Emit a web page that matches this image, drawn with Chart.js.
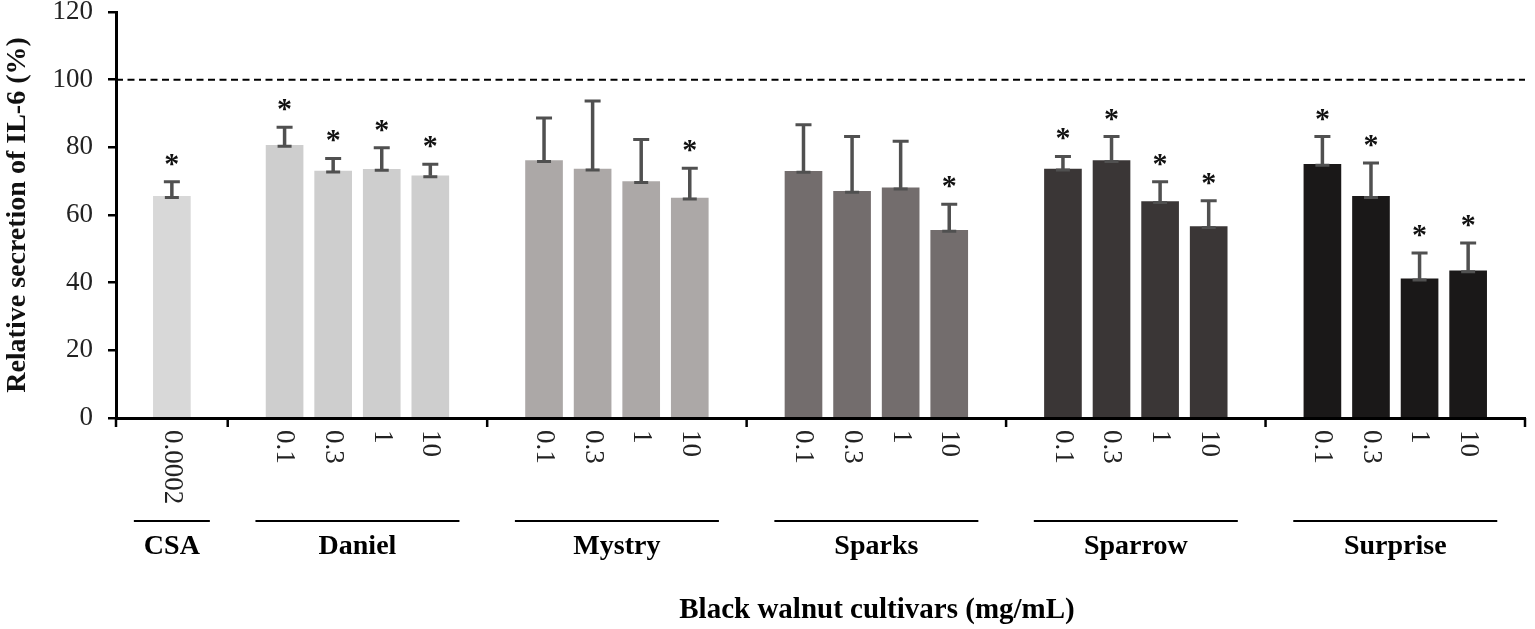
<!DOCTYPE html>
<html lang="en">

<head>
    <meta charset="UTF-8">
    <title>IL-6 secretion</title>
    <script src="https://cdn.jsdelivr.net/npm/chart.js@4.4.0/dist/chart.umd.min.js"></script>
    <style>
        html, body { margin: 0; padding: 0; background: #fff; }
        #wrap { width: 1535px; height: 629px; }
    </style>
</head>

<body>
    <div id="wrap"><canvas id="mychart"></canvas></div>

    <script>
        // cultivars and doses (mg/mL)
        const groups = ['CSA', 'Daniel', 'Mystry', 'Sparks', 'Sparrow', 'Surprise'];
        const doses = [
            ['0.0002'],
            ['0.1', '0.3', '1', '10'],
            ['0.1', '0.3', '1', '10'],
            ['0.1', '0.3', '1', '10'],
            ['0.1', '0.3', '1', '10'],
            ['0.1', '0.3', '1', '10']
        ];
        // relative secretion of IL-6 (%)
        const means = [
            [65.5],
            [80.6, 73.0, 73.5, 71.6],
            [76.1, 73.6, 69.9, 65.0],
            [72.9, 67.0, 68.0, 55.5],
            [73.6, 76.1, 64.0, 56.6],
            [75.0, 65.5, 41.1, 43.5]
        ];
        const errors = [
            [4.3],
            [5.3, 3.7, 6.4, 3.4],
            [12.6, 20.1, 12.4, 8.8],
            [13.8, 16.2, 13.8, 7.7],
            [3.7, 7.1, 5.8, 7.6],
            [8.2, 9.9, 7.7, 8.2]
        ];
        const stars = [
            [1],
            [1, 1, 1, 1],
            [0, 0, 0, 1],
            [0, 0, 0, 1],
            [1, 1, 1, 1],
            [1, 1, 1, 1]
        ];
        const controlLevel = 100;

        const groupColors = ['#d8d8d8', '#cecece', '#aca8a7', '#736d6d', '#3a3636', '#1a1818'];

        // layout along x (in axis units)
        const edge = 57, step = 48.7, edgeSingle = 56;
        const bounds = [0];
        const pts = [], cols = [], errs = [], sig = [], labs = [];
        let pos = 0;
        groups.forEach((g, gi) => {
            const n = doses[gi].length;
            const m = n == 1 ? edgeSingle : edge;
            for (let i = 0; i < n; i++) {
                pts.push({ x: pos + m + i * step, y: means[gi][i] });
                cols.push(groupColors[gi]);
                errs.push(errors[gi][i]);
                sig.push(stars[gi][i]);
                labs.push(doses[gi][i]);
            }
            pos += 2 * m + (n - 1) * step;
            bounds.push(pos);
        });
        const total = pos;

        const serif = '"Liberation Serif", "Times New Roman", serif';

        const extras = {
            id: 'extras',
            afterDatasetsDraw(chart) {
                const ctx = chart.ctx;
                const ys = chart.scales.y;
                const meta = chart.getDatasetMeta(1);
                ctx.save();
                meta.data.forEach((bar, i) => {
                    const top = ys.getPixelForValue(pts[i].y);
                    const et = ys.getPixelForValue(pts[i].y + errs[i]);
                    ctx.strokeStyle = '#505050';
                    ctx.lineWidth = 3.5;
                    ctx.beginPath();
                    ctx.moveTo(bar.x, top);
                    ctx.lineTo(bar.x, et);
                    ctx.stroke();
                    ctx.lineWidth = 3;
                    ctx.beginPath();
                    ctx.moveTo(bar.x - 8, et);
                    ctx.lineTo(bar.x + 8, et);
                    ctx.moveTo(bar.x - 7, top + 1);
                    ctx.lineTo(bar.x + 7, top + 1);
                    ctx.stroke();
                    if (sig[i]) {
                        ctx.fillStyle = '#111';
                        ctx.font = 'bold 30px ' + serif;
                        ctx.textAlign = 'center';
                        ctx.textBaseline = 'alphabetic';
                        ctx.fillText('*', bar.x, et - 9);
                    }
                });
                ctx.restore();
            },
            afterDraw(chart) {
                const ctx = chart.ctx;
                const xs = chart.scales.x;
                const bottom = chart.chartArea.bottom;
                const meta = chart.getDatasetMeta(1);
                ctx.save();
                // group separators below the axis
                ctx.strokeStyle = '#000';
                ctx.lineWidth = 2.5;
                bounds.forEach(b => {
                    const px = xs.getPixelForValue(b);
                    ctx.beginPath();
                    ctx.moveTo(px, bottom);
                    ctx.lineTo(px, bottom + 9);
                    ctx.stroke();
                });
                // dose labels, rotated clockwise
                ctx.fillStyle = '#222';
                ctx.font = '27px ' + serif;
                ctx.textAlign = 'left';
                ctx.textBaseline = 'middle';
                meta.data.forEach((bar, i) => {
                    ctx.save();
                    ctx.translate(bar.x, bottom + 12);
                    ctx.rotate(Math.PI / 2);
                    ctx.fillText(labs[i], 0, 0);
                    ctx.restore();
                });
                // cultivar names with lines above
                ctx.fillStyle = '#000';
                ctx.font = 'bold 28px ' + serif;
                ctx.textAlign = 'center';
                groups.forEach((g, gi) => {
                    const c = (xs.getPixelForValue(bounds[gi]) + xs.getPixelForValue(bounds[gi + 1])) / 2;
                    const half = doses[gi].length == 1 ? 38 : 102;
                    ctx.lineWidth = 2;
                    ctx.beginPath();
                    ctx.moveTo(c - half, 521);
                    ctx.lineTo(c + half, 521);
                    ctx.stroke();
                    ctx.fillText(g, c, 547);
                });
                ctx.font = 'bold 29px ' + serif;
                ctx.fillText('Black walnut cultivars (mg/mL)', 877, 611);
                ctx.restore();
            }
        };

        const ctx = document.getElementById('mychart');
        const mychart = new Chart(ctx, {
            type: 'bar',
            data: {
                datasets: [{
                    type: 'line',
                    data: [{ x: 0, y: controlLevel }, { x: total, y: controlLevel }],
                    borderColor: '#000',
                    borderWidth: 2,
                    borderDash: [7, 4.5],
                    pointRadius: 0,
                    fill: false,
                }, {
                    data: pts,
                    backgroundColor: cols,
                    borderWidth: 0,
                    barThickness: 37,
                }],
            },
            options: {
                responsive: true,
                maintainAspectRatio: false,
                animation: false,
                layout: { padding: { left: 0, right: 10, top: 12, bottom: 211 } },
                plugins: {
                    legend: { display: false },
                    tooltip: { enabled: false },
                },
                scales: {
                    x: {
                        type: 'linear',
                        min: 0,
                        max: total,
                        offset: false,
                        grid: { drawOnChartArea: false, drawTicks: false },
                        border: { color: '#000', width: 3 },
                        ticks: { display: false },
                    },
                    y: {
                        min: 0,
                        max: 120,
                        ticks: {
                            stepSize: 20,
                            padding: 15,
                            color: '#222',
                            font: { family: serif, size: 27, lineHeight: 0.9 },
                        },
                        grid: { drawOnChartArea: false, drawTicks: true, tickLength: 8, lineWidth: 2.5, color: '#000' },
                        border: { color: '#000', width: 3 },
                        title: {
                            display: true,
                            text: 'Relative secretion of IL-6 (%)',
                            color: '#111',
                            font: { family: serif, size: 28, weight: 'bold', lineHeight: 1 },
                            padding: { top: 4, bottom: 0 },
                        },
                        afterFit(scale) {
                            scale.width = 116;
                            scale.paddingTop = 0;
                            scale.paddingBottom = 0;
                        },
                    }
                }
            },
            plugins: [extras]
        });
    </script>
</body>

</html>
